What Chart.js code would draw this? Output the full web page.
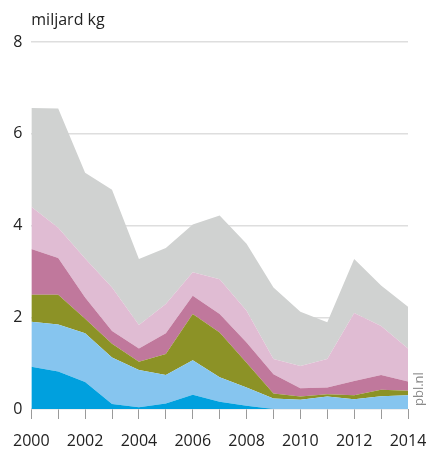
<!DOCTYPE html>
<html lang="nl">
<head>
  <meta charset="UTF-8">
  <title>miljard kg</title>
  <script src="https://cdn.jsdelivr.net/npm/chart.js@4.4.1/dist/chart.umd.min.js"></script>
  <style>
    html, body { margin: 0; padding: 0; background: #fff; }
    .chart-container { position: relative; width: 426px; height: 451px; }
  </style>
</head>
<body>
  <div class="chart-container">
    <canvas id="areaChart" width="426" height="451"></canvas>
  </div>

  <script>
    const years = ['2000','2001','2002','2003','2004','2005','2006','2007','2008','2009','2010','2011','2012','2013','2014'];
    const yTicks = [0, 2, 4, 6, 8];

    // layer thicknesses (miljard kg), bottom to top
    const layer1 = [0.92, 0.82, 0.59, 0.11, 0.04, 0.12, 0.31, 0.16, 0.07, 0.00, 0.00, 0.00, 0.00, 0.00, 0.00];
    const layer2 = [0.98, 1.02, 1.06, 1.01, 0.81, 0.62, 0.75, 0.53, 0.40, 0.23, 0.20, 0.27, 0.21, 0.28, 0.30];
    const layer3 = [0.59, 0.65, 0.32, 0.30, 0.18, 0.46, 1.01, 0.98, 0.54, 0.11, 0.07, 0.05, 0.09, 0.14, 0.10];
    const layer4 = [1.00, 0.80, 0.46, 0.28, 0.29, 0.45, 0.40, 0.40, 0.44, 0.42, 0.18, 0.15, 0.31, 0.32, 0.20];
    const layer5 = [0.92, 0.66, 0.85, 0.95, 0.51, 0.64, 0.51, 0.76, 0.69, 0.33, 0.49, 0.62, 1.48, 1.07, 0.72];
    const layer6 = [2.15, 2.60, 1.87, 2.13, 1.44, 1.22, 1.04, 1.39, 1.46, 1.56, 1.18, 0.80, 1.18, 0.88, 0.91];

    const layerColors = ['#00a0de', '#86c5ef', '#8c9226', '#c0789c', '#e0bcd3', '#d0d2d1'];
    const layers = [layer1, layer2, layer3, layer4, layer5, layer6];

    const font = "'Open Sans', sans-serif";

    const extraText = {
      id: 'extraText',
      afterDraw(chart) {
        const ctx = chart.ctx;
        const area = chart.chartArea;
        ctx.save();
        ctx.fillStyle = '#222';
        ctx.font = '16px ' + font;
        ctx.textAlign = 'left';
        ctx.textBaseline = 'alphabetic';
        ctx.fillText('miljard kg', area.left, 25);

        ctx.translate(area.right + 11, area.bottom - 3);
        ctx.rotate(-Math.PI / 2);
        ctx.fillStyle = '#8a8a8a';
        ctx.font = '13px ' + font;
        ctx.textBaseline = 'middle';
        ctx.fillText('pbl.nl', 0, 0);
        ctx.restore();
      }
    };

    new Chart(document.getElementById('areaChart').getContext('2d'), {
      type: 'line',
      data: {
        labels: years,
        datasets: layers.map((d, i) => ({
          data: d,
          backgroundColor: layerColors[i],
          borderColor: layerColors[i],
          borderWidth: 0,
          pointRadius: 0,
          tension: 0,
          fill: i === 0 ? 'origin' : '-1'
        }))
      },
      options: {
        responsive: false,
        animation: false,
        devicePixelRatio: 1,
        layout: { padding: { top: 42, right: 18, left: 0, bottom: 0 } },
        plugins: {
          legend: { display: false },
          tooltip: { enabled: false }
        },
        scales: {
          x: {
            offset: false,
            grid: { drawOnChartArea: false, drawTicks: true, tickLength: 10, color: '#9a9a9a' },
            border: { display: false },
            ticks: {
              autoSkip: false,
              maxRotation: 0,
              padding: 13,
              color: '#222',
              font: { family: font, size: 16 },
              callback: (v, i) => (i % 2 === 0 ? years[i] : '')
            },
            afterFit: s => { s.height = 42; s.paddingRight = 0; }
          },
          y: {
            stacked: true,
            min: 0,
            max: 8,
            afterBuildTicks: s => { s.ticks = yTicks.map(v => ({ value: v })); },
            grid: { color: '#dedede', lineWidth: 1.5, drawTicks: false },
            border: { display: false },
            ticks: {
              autoSkip: false,
              padding: 9,
              color: '#222',
              font: { family: font, size: 16 }
            },
            afterFit: s => { s.width = 31; }
          }
        }
      },
      plugins: [extraText]
    });
  </script>
</body>
</html>
